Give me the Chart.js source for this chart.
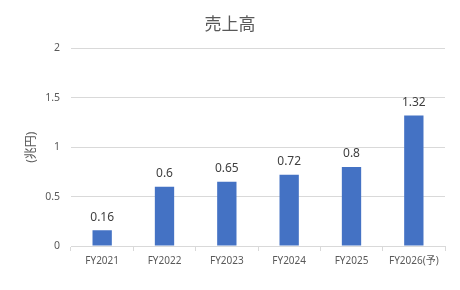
<!DOCTYPE html>
<html><head><meta charset="utf-8">
<script src="https://cdn.jsdelivr.net/npm/chart.js@4"></script>
<style>html,body{margin:0;padding:0;background:#fff}#wrap{width:460px;height:290px}</style>
</head><body><div id="wrap"><canvas id="c" width="460" height="290"></canvas></div>
<script>
const categories = ["FY2021","FY2022","FY2023","FY2024","FY2025","FY2026(予)"];
const sales = [0.16, 0.6, 0.65, 0.72, 0.8, 1.32];
const valueLabels = ["0.16","0.6","0.65","0.72","0.8","1.32"];
const yTickLabels = {0:"0", 0.5:"0.5", 1:"1", 1.5:"1.5", 2:"2"};
const chartTitle = "売上高";
const yTitle = "(兆円)";

const FONT = '"Noto Sans", "Noto Sans CJK JP", sans-serif';
const labelPlugin = {
  id: 'vlabels',
  afterDatasetsDraw(chart) {
    const ctx = chart.ctx;
    const meta = chart.getDatasetMeta(0);
    ctx.save();
    ctx.font = '12px ' + FONT;
    ctx.fillStyle = '#404040';
    ctx.textAlign = 'center';
    ctx.textBaseline = 'bottom';
    meta.data.forEach((bar, i) => {
      ctx.fillText(valueLabels[i], bar.x, bar.y - 7);
    });
    ctx.restore();
  }
};

new Chart(document.getElementById('c'), {
  type: 'bar',
  data: { labels: categories, datasets: [{ data: sales, backgroundColor: '#4472C4', categoryPercentage: 1, barPercentage: 0.31 }] },
  options: {
    responsive: false, animation: false,
    layout: { padding: { left: 15, right: 15, top: 0, bottom: 0 } },
    plugins: {
      legend: { display: false }, tooltip: { enabled: false },
      title: { display: true, text: chartTitle, color: '#595959', font: { family: FONT, size: 17, weight: 'normal' }, padding: { top: 15, bottom: 13 } }
    },
    scales: {
      x: {
        grid: { drawOnChartArea: false, drawTicks: true, tickLength: 5, color: '#d9d9d9' },
        border: { color: '#d9d9d9' },
        ticks: { color: '#595959', font: { family: FONT, size: 10 }, padding: 4, maxRotation: 0, autoSkip: false },
        afterFit(s) { s.height = 44; }
      },
      y: {
        min: 0, max: 2,
        ticks: { stepSize: 0.5, color: '#595959', font: { family: FONT, size: 10.5 }, padding: 11,
          callback: (v) => yTickLabels[v] !== undefined ? yTickLabels[v] : String(v) },
        grid: { color: '#d9d9d9', drawTicks: false },
        border: { display: false },
        title: { display: true, text: yTitle, color: '#595959', font: { family: FONT, size: 12 }, padding: { top: 9, bottom: 0 } },
        afterFit(s) { s.width = 56; }
      }
    }
  },
  plugins: [labelPlugin]
});
</script></body></html>
